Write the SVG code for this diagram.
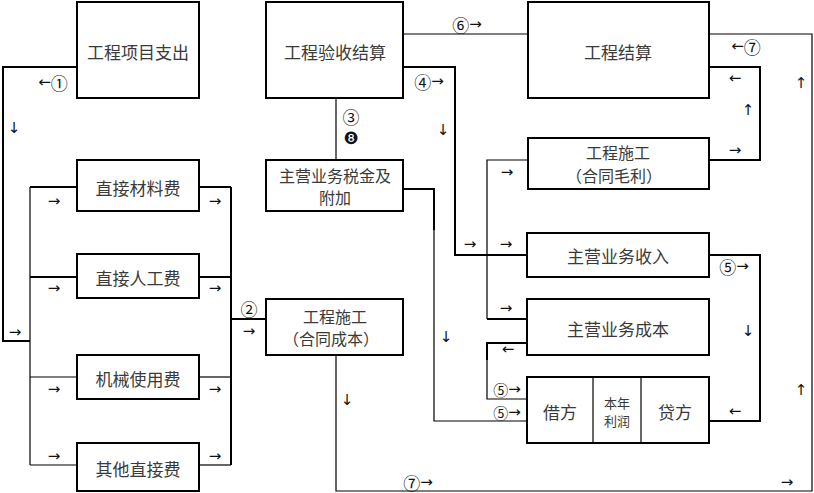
<svg xmlns="http://www.w3.org/2000/svg" width="814" height="493" viewBox="0 0 814 493">
<style>
  .box { fill: #fff; stroke: #000; stroke-width: 2; }
  .thick { fill: none; stroke: #000; stroke-width: 2; }
  .thin { fill: none; stroke: #000; stroke-width: 1.2; }
  .lbl { font-family: "Noto Sans CJK SC", "Noto Sans", sans-serif; font-size: 17px; fill: #3a3a3a; text-anchor: middle; dominant-baseline: central; }
  .two { font-size: 16px; }
  .small { font-family: "Noto Sans CJK SC", "Noto Sans", sans-serif; font-size: 13px; fill: #3a3a3a; text-anchor: middle; dominant-baseline: central; }
  .ar { font-family: "DejaVu Sans", sans-serif; font-size: 15px; fill: #111; text-anchor: middle; dominant-baseline: central; }
  .cn { font-family: "Noto Sans CJK SC", sans-serif; font-size: 17px; }
  .cs { font-family: "Noto Sans CJK SC", sans-serif; font-size: 15px; }
  .dg { font-family: "DejaVu Sans", sans-serif; font-size: 17px; fill: #111; text-anchor: middle; dominant-baseline: central; }
</style>
<rect width="814" height="493" fill="#fff"/>

<g id="connectors">
  <polyline class="thick" points="77,67 3,67 3,341 30,341"/>
  <line class="thin" x1="30" y1="187" x2="30" y2="465"/>
  <line class="thick" x1="30" y1="187" x2="77" y2="187"/>
  <line class="thick" x1="30" y1="277" x2="77" y2="277"/>
  <line class="thin" x1="30" y1="377" x2="77" y2="377"/>
  <line class="thin" x1="30" y1="465" x2="77" y2="465"/>
  <line class="thick" x1="199" y1="187" x2="231" y2="187"/>
  <line class="thick" x1="199" y1="277" x2="231" y2="277"/>
  <line class="thin" x1="199" y1="377" x2="231" y2="377"/>
  <line class="thin" x1="199" y1="465" x2="231" y2="465"/>
  <line class="thick" x1="231" y1="187" x2="231" y2="465"/>
  <line class="thick" x1="231" y1="319" x2="266" y2="319"/>
  <line class="thin" x1="403" y1="34" x2="528" y2="34"/>
  <polyline class="thick" points="403,67 455,67 455,255 527,255"/>
  <line class="thin" x1="336" y1="98" x2="336" y2="160"/>
  <polyline class="thick" points="403,189 434,189 434,230"/>
  <polyline class="thin" points="434,230 434,421 527,421"/>
  <polyline class="thin" points="528,160 487,160 487,319"/>
  <line class="thick" x1="487" y1="319" x2="527" y2="319"/>
  <polyline class="thick" points="527,343 487,343 487,360"/>
  <polyline class="thin" points="487,360 487,399 527,399"/>
  <polyline class="thick" points="709,160 760,160 760,67 709,67"/>
  <polyline class="thick" points="709,255 760,255 760,421 709,421"/>
  <polyline class="thin" points="709,34 812,34 812,491 336,491 336,355"/>
</g>

<g id="arrows">
  <text class="ar" x="53" y="82">←<tspan class="cn">①</tspan></text>
  <text class="ar" x="14" y="128">↓</text>
  <text class="ar" x="15" y="332">→</text>
  <text class="ar" x="54" y="201">→</text>
  <text class="ar" x="215" y="201">→</text>
  <text class="ar" x="54" y="288">→</text>
  <text class="ar" x="215" y="288">→</text>
  <text class="ar" x="54" y="389">→</text>
  <text class="ar" x="215" y="389">→</text>
  <text class="ar" x="54" y="456">→</text>
  <text class="ar" x="215" y="456">→</text>
  <text class="ar" x="249" y="308"><tspan class="cn">②</tspan></text>
  <text class="ar" x="249" y="331">→</text>
  <text class="ar" x="467" y="24"><tspan class="cn">⑥</tspan>→</text>
  <text class="ar" x="429" y="81"><tspan class="cn">④</tspan>→</text>
  <text class="ar" x="351" y="116"><tspan class="cn">③</tspan></text>
  <text class="dg" x="351" y="138">❽</text>
  <text class="ar" x="443" y="130">↓</text>
  <text class="ar" x="507" y="172">→</text>
  <text class="ar" x="746" y="46">←<tspan class="cn">⑦</tspan></text>
  <text class="ar" x="735" y="78">←</text>
  <text class="ar" x="748" y="110">↑</text>
  <text class="ar" x="735" y="150">→</text>
  <text class="ar" x="801" y="83">↑</text>
  <text class="ar" x="470" y="244">→</text>
  <text class="ar" x="506" y="244">→</text>
  <text class="ar" x="506" y="308">→</text>
  <text class="ar" x="734" y="266"><tspan class="cn">⑤</tspan>→</text>
  <text class="ar" x="748" y="331">↓</text>
  <text class="ar" x="446" y="337">↓</text>
  <text class="ar" x="347" y="400">↓</text>
  <text class="ar" x="508" y="349">←</text>
  <text class="ar" x="507" y="389"><tspan class="cs">⑤</tspan>→</text>
  <text class="ar" x="507" y="412"><tspan class="cs">⑤</tspan>→</text>
  <text class="ar" x="735" y="411">←</text>
  <text class="ar" x="801" y="390">↑</text>
  <text class="ar" x="787" y="482">→</text>
  <text class="ar" x="418" y="482"><tspan class="cn">⑦</tspan>→</text>
</g>

<g id="node-gcxmzc">
  <rect class="box" x="77" y="2" width="122" height="96"/>
  <text class="lbl" x="138" y="51">工程项目支出</text>
</g>
<g id="node-gcysjs">
  <rect class="box" x="266" y="2" width="137" height="96"/>
  <text class="lbl" x="335" y="51">工程验收结算</text>
</g>
<g id="node-gcjs">
  <rect class="box" x="528" y="2" width="181" height="96"/>
  <text class="lbl" x="618" y="51">工程结算</text>
</g>
<g id="node-gcsg-ml">
  <rect class="box" x="528" y="138" width="181" height="51"/>
  <text class="lbl two" x="618" y="152">工程施工</text>
  <text class="lbl two" x="614" y="175">（合同毛利）</text>
</g>
<g id="node-sj">
  <rect class="box" x="266" y="160" width="137" height="51"/>
  <text class="lbl two" x="335" y="175">主营业务税金及</text>
  <text class="lbl two" x="335" y="197">附加</text>
</g>
<g id="node-clf">
  <rect class="box" x="77" y="160" width="122" height="51"/>
  <text class="lbl" x="138" y="187">直接材料费</text>
</g>
<g id="node-rgf">
  <rect class="box" x="77" y="254" width="122" height="44"/>
  <text class="lbl" x="138" y="277">直接人工费</text>
</g>
<g id="node-jxf">
  <rect class="box" x="77" y="355" width="122" height="44"/>
  <text class="lbl" x="138" y="378">机械使用费</text>
</g>
<g id="node-qtf">
  <rect class="box" x="77" y="443" width="122" height="48"/>
  <text class="lbl" x="138" y="468">其他直接费</text>
</g>
<g id="node-gcsg-cb">
  <rect class="box" x="266" y="299" width="137" height="56"/>
  <text class="lbl two" x="335" y="316">工程施工</text>
  <text class="lbl two" x="331" y="338">（合同成本）</text>
</g>
<g id="node-zysr">
  <rect class="box" x="527" y="233" width="182" height="44"/>
  <text class="lbl" x="618" y="255">主营业务收入</text>
</g>
<g id="node-zycb">
  <rect class="box" x="527" y="299" width="182" height="56"/>
  <text class="lbl" x="618" y="328">主营业务成本</text>
</g>
<g id="node-bnlr">
  <rect class="box" x="527" y="377" width="182" height="66"/>
  <line class="thin" x1="593" y1="377" x2="593" y2="443"/>
  <line class="thin" x1="641" y1="377" x2="641" y2="443"/>
  <text class="lbl" x="560" y="411">借方</text>
  <text class="small" x="617" y="402">本年</text>
  <text class="small" x="617" y="420">利润</text>
  <text class="lbl" x="675" y="411">贷方</text>
</g>
</svg>
